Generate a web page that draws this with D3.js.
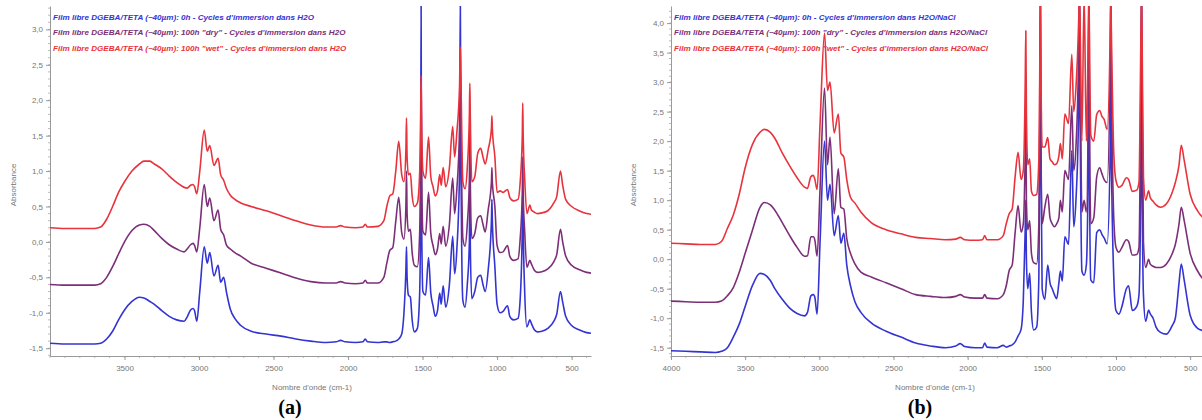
<!DOCTYPE html>
<html><head><meta charset="utf-8">
<script src="https://cdn.jsdelivr.net/npm/d3@7"></script>
<style>body{margin:0;background:#fff;} svg{display:block;}</style>
</head><body>
<svg id="chart" width="1202" height="420"></svg>
<script>
// ---- DATA ----
const wavenumbers = [
 4000,3900,3800,3700,3660,3620,3580,3540,3500,3450,3400,3370,3330,3300,3250,3200,3150,3100,3080,
 3057,3040,3030,3015,2995,2965,2945,2928,2900,2872,2855,2835,2815,2790,2760,2720,2650,2550,2450,2350,
 2250,2150,2080,2050,2020,1950,1900,1885,1870,1800,1760,1740,1720,1700,1680,1660,1640,1625,1612,1608,
 1604,1595,1582,1570,1555,1535,1520,1513,1510,1507,1498,1480,1460,1445,1430,1415,1400,1385,1375,1362,
 1345,1320,1298,1285,1270,1252,1247,1242,1230,1215,1200,1186,1183,1180,1170,1150,1130,1110,1095,1080,
 1060,1038,1035,1032,1015,1000,980,960,930,915,890,860,845,831,828,825,815,800,780,770,
 750,730,700,660,620,600,575,560,540,500,450,400,370];

// (a) immersion in H2O
const blueA = [
 -1.43,-1.44,-1.44,-1.44,-1.43,-1.37,-1.26,-1.1,-0.96,-0.84,-0.78,-0.79,-0.84,-0.88,-0.97,-1.05,-1.1,-1.12,-1.06,
 -0.96,-0.94,-0.97,-1.12,-0.7,-0.07,-0.3,-0.15,-0.48,-0.33,-0.57,-0.5,-0.72,-0.95,-1.08,-1.18,-1.26,-1.3,-1.33,-1.37,
 -1.4,-1.42,-1.41,-1.39,-1.41,-1.42,-1.41,-1.37,-1.41,-1.42,-1.41,-1.41,-1.42,-1.41,-1.4,-1.37,-1.3,-1.0,-0.4,-0.07,
 -0.5,-0.75,-0.78,-1.1,-1.27,-1.22,-0.75,0.5,3.5,0.5,-0.7,-0.75,-0.22,-0.72,-0.9,-1.05,-0.97,-0.72,-0.88,-0.62,
 -0.92,-0.6,0.08,-0.45,-0.1,1.0,3.5,1.0,-0.82,-0.92,-0.6,0.0,0.8,0.0,-0.8,-0.7,-0.5,-0.47,-0.6,-0.7,
 -0.4,0.3,0.6,0.3,-0.35,-0.88,-1.0,-0.98,-0.9,-1.05,-1.1,-1.08,-0.8,0.2,0.74,0.2,-0.7,-1.2,-1.1,-1.15,
 -1.24,-1.27,-1.26,-1.22,-1.12,-1.02,-0.7,-0.85,-1.05,-1.18,-1.24,-1.28,-1.29];
const purpleA = [
 -0.6,-0.61,-0.61,-0.61,-0.59,-0.5,-0.35,-0.17,0.0,0.16,0.24,0.25,0.22,0.16,0.05,-0.04,-0.1,-0.14,-0.1,
 -0.04,-0.02,-0.05,-0.14,0.2,0.81,0.5,0.62,0.3,0.45,0.18,0.1,-0.05,-0.1,-0.15,-0.2,-0.3,-0.37,-0.44,-0.51,
 -0.56,-0.58,-0.58,-0.56,-0.58,-0.59,-0.58,-0.54,-0.58,-0.58,-0.5,-0.3,-0.12,-0.08,0.29,0.63,0.13,0.04,0.5,1.0,
 0.4,0.15,0.18,-0.15,-0.33,-0.35,0.1,1.2,2.3,1.2,0.15,0.1,0.7,0.12,-0.05,-0.18,-0.1,0.12,-0.03,0.22,
 -0.06,0.25,0.9,0.4,0.75,1.6,2.5,1.6,0.05,-0.06,0.25,0.9,1.6,0.9,0.05,0.12,0.34,0.37,0.25,0.14,
 0.45,0.85,1.05,0.85,0.5,-0.05,-0.15,-0.14,-0.05,-0.2,-0.26,-0.24,0.05,0.7,1.2,0.7,0.15,-0.36,-0.26,-0.31,
 -0.4,-0.43,-0.42,-0.38,-0.28,-0.18,0.18,0.0,-0.2,-0.33,-0.39,-0.43,-0.44];
const redA = [
 0.2,0.19,0.19,0.19,0.21,0.32,0.5,0.7,0.85,1.0,1.1,1.14,1.14,1.1,1.03,0.93,0.84,0.77,0.76,
 0.8,0.81,0.78,0.68,1.0,1.58,1.28,1.36,1.08,1.18,0.95,0.87,0.75,0.66,0.6,0.55,0.5,0.44,0.37,0.3,
 0.24,0.21,0.21,0.23,0.21,0.2,0.21,0.25,0.21,0.22,0.3,0.5,0.65,0.68,1.0,1.42,0.95,0.85,1.3,1.75,
 1.2,0.95,0.97,0.65,0.5,0.55,0.95,1.8,2.35,1.8,1.0,0.9,1.48,0.92,0.78,0.65,0.72,0.95,0.8,1.05,
 0.78,1.05,1.63,1.2,1.55,2.2,2.75,2.2,0.85,0.75,1.05,1.8,2.24,1.8,0.85,0.92,1.25,1.32,1.2,1.1,
 1.3,1.6,1.78,1.6,1.2,0.7,0.72,0.7,0.74,0.63,0.58,0.6,0.85,1.5,1.96,1.5,0.9,0.4,0.52,0.45,
 0.42,0.4,0.41,0.44,0.55,0.64,1.0,0.8,0.6,0.5,0.44,0.4,0.39];

// (b) immersion in H2O/NaCl
const blueB = [
 -1.55,-1.56,-1.57,-1.58,-1.56,-1.5,-1.32,-1.1,-0.8,-0.44,-0.24,-0.26,-0.36,-0.5,-0.68,-0.83,-0.92,-0.96,-0.9,
 -0.62,-0.6,-0.65,-0.93,0.3,2.0,1.0,1.27,0.4,0.74,0.27,0.44,-0.1,-0.45,-0.72,-0.9,-1.08,-1.22,-1.32,-1.42,
 -1.47,-1.5,-1.47,-1.43,-1.48,-1.5,-1.5,-1.42,-1.49,-1.5,-1.46,-1.49,-1.47,-1.45,-1.4,-1.3,-1.19,-0.7,0.5,1.0,
 0.0,-0.5,-0.24,-0.9,-1.2,-1.15,-0.3,2.0,4.5,2.0,-0.5,-0.68,-0.1,-0.4,-0.5,-0.6,-0.67,-0.4,-0.2,-0.37,
 0.38,0.25,1.84,0.55,1.0,2.5,4.5,2.5,-0.2,-0.27,-0.1,2.0,4.5,2.0,-0.35,-0.4,0.45,0.5,0.42,0.36,
 0.26,2.0,4.5,2.0,-0.3,-0.87,-0.93,-0.8,-0.5,-0.45,-0.87,-0.8,-0.6,2.0,4.5,2.0,-0.6,-1.05,-0.86,-0.92,
 -1.0,-1.15,-1.24,-1.27,-1.12,-1.0,-0.4,-0.08,-0.36,-0.95,-1.17,-1.22,-1.23];
const purpleB = [
 -0.71,-0.72,-0.73,-0.73,-0.71,-0.62,-0.48,-0.22,0.1,0.5,0.88,0.96,0.92,0.83,0.62,0.4,0.2,0.05,0.06,
 0.38,0.38,0.32,0.05,1.2,2.9,1.6,2.07,0.77,1.53,0.88,0.85,0.35,0.1,-0.08,-0.22,-0.3,-0.4,-0.5,-0.6,
 -0.63,-0.65,-0.63,-0.6,-0.64,-0.66,-0.66,-0.6,-0.66,-0.67,-0.6,-0.45,-0.19,-0.1,0.45,0.91,0.46,0.6,1.8,2.5,
 1.0,0.5,0.65,0.1,-0.06,-0.08,0.6,2.5,4.5,2.5,0.6,0.88,1.1,0.7,0.6,0.55,0.6,0.7,1.0,0.8,
 1.5,1.35,2.6,1.5,1.9,3.5,4.5,3.5,0.8,1.0,0.8,3.0,4.5,3.0,0.6,0.7,1.4,1.55,1.45,1.35,
 1.3,3.5,4.5,3.5,0.7,0.2,0.12,0.2,0.33,0.3,0.07,0.08,0.2,3.5,4.5,3.5,0.3,-0.14,0.0,-0.08,
 -0.12,-0.14,-0.14,-0.08,0.1,0.25,0.6,0.88,0.65,0.1,-0.2,-0.36,-0.38];
const redB = [
 0.27,0.26,0.25,0.25,0.3,0.52,0.75,1.1,1.55,1.95,2.15,2.2,2.15,2.05,1.8,1.58,1.38,1.22,1.2,
 1.4,1.42,1.35,1.18,2.3,3.83,2.86,3.0,2.14,2.46,1.8,1.73,1.35,1.05,0.95,0.8,0.62,0.5,0.43,0.37,
 0.35,0.33,0.34,0.37,0.33,0.32,0.33,0.4,0.33,0.33,0.4,0.6,0.77,0.85,1.4,1.81,1.35,1.5,3.0,3.87,
 2.5,1.6,1.7,1.15,1.08,1.1,1.7,3.5,4.5,3.5,1.9,1.9,2.06,1.7,1.65,1.6,1.62,1.75,1.96,1.7,
 2.46,2.3,3.47,2.5,2.9,4.0,4.5,4.0,2.0,4.5,2.0,4.0,4.5,4.0,2.1,2.0,2.45,2.52,2.42,2.37,
 2.2,4.0,4.5,4.0,1.8,1.33,1.22,1.25,1.38,1.35,1.15,1.17,1.3,4.0,4.5,4.0,1.4,1.0,1.16,1.05,
 0.98,0.92,0.88,0.94,1.14,1.3,1.6,1.93,1.67,1.1,0.82,0.68,0.66];

const legendA = [
 "Film libre DGEBA/TETA (~40µm): 0h - Cycles d'immersion dans H2O",
 "Film libre DGEBA/TETA (~40µm): 100h \"dry\" - Cycles d'immersion dans H2O",
 "Film libre DGEBA/TETA (~40µm): 100h \"wet\" - Cycles d'immersion dans H2O"];
const legendB = [
 "Film libre DGEBA/TETA (~40µm): 0h - Cycles d'immersion dans H2O/NaCl",
 "Film libre DGEBA/TETA (~40µm): 100h \"dry\" - Cycles d'immersion dans H2O/NaCl",
 "Film libre DGEBA/TETA (~40µm): 100h \"wet\" - Cycles d'immersion dans H2O/NaCl"];

const xTicksA = [3500,3000,2500,2000,1500,1000,500];
const xTicksB = [4000,3500,3000,2500,2000,1500,1000,500];
const yTicksA = [-1.5,-1.0,-0.5,0.0,0.5,1.0,1.5,2.0,2.5,3.0];
const yTicksB = [-1.5,-1.0,-0.5,0.0,0.5,1.0,1.5,2.0,2.5,3.0,3.5,4.0];
const seriesColors = ["#3434d2","#7c2f78","#e8333c"];
const xTitle = "Nombre d'onde (cm-1)";
const yTitle = "Absorbance";

// ---- DRAW ----
const svg = d3.select("#chart");
svg.append("rect").attr("width",1202).attr("height",420).attr("fill","#fff");
const loc = d3.formatLocale({decimal:",",thousands:"",grouping:[3],currency:["",""],minus:"-"});
const yFmt = loc.format(".1f");
const FONT = "Liberation Sans, Arial, sans-serif";

const panels = [
 {id:"a", left:50, right:591, top:6, bottom:356, xDom:[4000,370], yDom:[-1.61,3.33],
  xTicks:xTicksA, yTicks:yTicksA, series:[blueA,purpleA,redA], legend:legendA,
  yTitleX:16, xTitleX:312, tag:"(a)", tagX:290},
 {id:"b", left:671, right:1205, top:6, bottom:356, xDom:[4000,400], yDom:[-1.64,4.29],
  xTicks:xTicksB, yTicks:yTicksB, series:[blueB,purpleB,redB], legend:legendB,
  yTitleX:636, xTitleX:935, tag:"(b)", tagX:920}
];

panels.forEach(p => {
  const x = d3.scaleLinear().domain(p.xDom).range([p.left,p.right]);
  const y = d3.scaleLinear().domain(p.yDom).range([p.bottom,p.top]);
  const g = svg.append("g");

  g.append("clipPath").attr("id","clip"+p.id).append("rect")
    .attr("x",p.left).attr("y",p.top).attr("width",p.right-p.left).attr("height",p.bottom-p.top);

  // minor ticks
  const minorX = d3.range(4000, 300, -100).filter(v => v<=p.xDom[0] && v>=p.xDom[1]);
  g.selectAll(".mx").data(minorX).join("line")
    .attr("x1",d=>x(d)).attr("x2",d=>x(d)).attr("y1",p.bottom).attr("y2",p.bottom+2)
    .attr("stroke","#aaa").attr("stroke-width",0.8);
  const minorY = d3.range(-16, 44).map(v=>v/10).filter(v => v>=p.yDom[0] && v<=p.yDom[1]);
  g.selectAll(".my").data(minorY).join("line")
    .attr("x1",p.left-2).attr("x2",p.left).attr("y1",d=>y(d)).attr("y2",d=>y(d))
    .attr("stroke","#aaa").attr("stroke-width",0.8);

  // axes
  const xAxis = d3.axisBottom(x).tickValues(p.xTicks).tickFormat(d3.format("d")).tickSize(4).tickSizeOuter(0);
  const gx = g.append("g").attr("transform",`translate(0,${p.bottom})`).call(xAxis);
  const yAxis = d3.axisLeft(y).tickValues(p.yTicks).tickFormat(yFmt).tickSize(4).tickSizeOuter(0);
  const gy = g.append("g").attr("transform",`translate(${p.left},0)`).call(yAxis);
  [gx,gy].forEach(ax => {
    ax.select(".domain").attr("stroke","#999");
    ax.selectAll(".tick line").attr("stroke","#999");
    ax.selectAll("text").attr("fill","#777").attr("font-size",8).attr("font-family",FONT);
  });
  gx.selectAll("text").attr("dy","1.0em");

  // spectra
  const line = d3.line()
    .x((d,i) => x(wavenumbers[i]))
    .y(d => y(d))
    .curve(d3.curveMonotoneX);
  const lg = g.append("g").attr("clip-path",`url(#clip${p.id})`);
  p.series.forEach((s,k) => {
    lg.append("path").datum(s).attr("d",line).attr("fill","none")
      .attr("stroke",seriesColors[k]).attr("stroke-width",1.6).attr("stroke-linejoin","round");
  });

  // legend
  p.legend.forEach((t,k) => {
    g.append("text").attr("x",p.left+3).attr("y",19.5+k*15.5).text(t)
      .attr("fill",seriesColors[k]).attr("font-size",8.1).attr("font-style","italic")
      .attr("font-weight","bold").attr("font-family",FONT);
  });

  // titles
  g.append("text").attr("transform",`translate(${p.yTitleX},185) rotate(-90)`)
    .attr("text-anchor","middle").attr("fill","#777").attr("font-size",8)
    .attr("font-family",FONT).text(yTitle);
  g.append("text").attr("x",p.xTitleX).attr("y",390).attr("text-anchor","middle")
    .attr("fill","#777").attr("font-size",8).attr("font-family",FONT).text(xTitle);
  g.append("text").attr("x",p.tagX).attr("y",414).attr("text-anchor","middle")
    .attr("fill","#000").attr("font-size",20).attr("font-weight","bold")
    .attr("font-family","Liberation Serif, Times New Roman, serif").text(p.tag);
});
</script>
</body></html>
